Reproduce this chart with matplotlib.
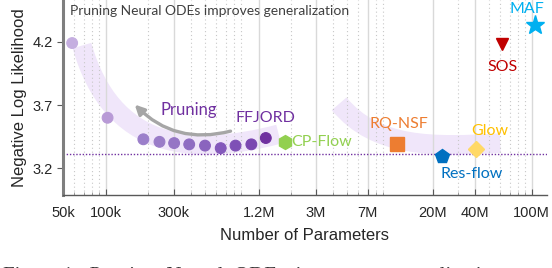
import matplotlib
matplotlib.use("Agg")
import matplotlib.pyplot as plt
from matplotlib.path import Path
from matplotlib.patches import PathPatch, FancyArrowPatch
from matplotlib.ticker import FixedLocator, LogLocator, NullFormatter

# FFJORD pruning trajectory (params, NLL), from dense -> pruned
ffjord_params = [5.8e4, 1.03e5, 1.84e5, 2.39e5, 3.03e5, 3.87e5, 5.0e5, 6.45e5, 8.2e5, 1.06e6, 1.34e6]
ffjord_nll = [4.19, 3.60, 3.43, 3.41, 3.40, 3.39, 3.38, 3.36, 3.38, 3.39, 3.44]
ffjord_colors = ['#c5aee0', '#b89ad6', '#9b7fca', '#9a7cc8', '#9575c5', '#8f6dc2',
                 '#8a64be', '#8459bb', '#7e50b6', '#7a47b0', '#7030a0']

# other flows
models = ['CP-Flow', 'RQ-NSF', 'Res-flow', 'Glow', 'SOS', 'MAF']
model_params = [1.84e6, 1.13e7, 2.34e7, 4.07e7, 6.2e7, 1.05e8]
model_nll = [3.41, 3.39, 3.30, 3.35, 4.18, 4.33]
model_markers = ['h', 's', 'p', 'D', 'v', '*']
model_sizes = [10, 9.5, 10, 8, 9, 14]
model_colors = ['#92d050', '#ed7d31', '#0070c0', '#ffd966', '#c00000', '#00b0f0']
label_colors = ['#92d050', '#ed7d31', '#0070c0', '#ffc000', '#c00000', '#00b0f0']
label_offsets = [(4, 0), (1, 15), (21, -13.5), (10, 13), (0, -16), (-6, 11.5)]
label_ha = ['left', 'center', 'center', 'center', 'center', 'center']

best_nll = 3.31

# decorative bands (bezier control points)
band1_x = [6.8e4, 1.1e5, 4.0e5, 1.65e6]
band1_y = [4.17, 3.35, 3.29, 3.47]
band2_x = [4.4e6, 8.0e6, 2.0e7, 6.0e7]
band2_y = [3.71, 3.36, 3.37, 3.40]

x_ticks = [5e4, 1e5, 3e5, 1.2e6, 3e6, 7e6, 2e7, 4e7, 1e8]
x_ticklabels = ['50k', '100k', '300k', '1.2M', '3M', '7M', '20M', '40M', '100M']
y_ticks = [3.2, 3.7, 4.2]

fig = plt.figure(figsize=(5.52, 2.68), dpi=100)
ax = fig.add_axes([63 / 552, 1 - 195 / 268, 484 / 552, 195 / 268])
ax.set_xscale('log')
ax.set_xlim(5e4, 1.28e8)
ax.set_ylim(2.99, 4.53)

# grid
ax.xaxis.set_major_locator(FixedLocator(x_ticks))
ax.set_xticklabels(x_ticklabels)
ax.xaxis.set_minor_locator(LogLocator(base=10, subs=range(2, 10)))
ax.xaxis.set_minor_formatter(NullFormatter())
ax.grid(axis='x', which='major', color='#d9d9d9', lw=1.0, zorder=0)
ax.grid(axis='x', which='minor', color='#c8c8c8', lw=0.8, ls=(0, (1, 2.5)), zorder=0)
ax.set_yticks(y_ticks)
ax.set_yticklabels([str(v) for v in y_ticks])

for bx, by in [(band1_x, band1_y), (band2_x, band2_y)]:
    path = Path(list(zip(bx, by)), [Path.MOVETO, Path.CURVE4, Path.CURVE4, Path.CURVE4])
    ax.add_patch(PathPatch(path, fill=False, edgecolor='#f0e6fa', lw=14,
                           capstyle='butt', zorder=1))

ax.axhline(best_nll, color='#7030a0', lw=1.0, ls=(0, (1, 1.3)), zorder=2)

arrow = FancyArrowPatch((7.9e5, 3.50), (1.55e5, 3.72), connectionstyle='arc3,rad=-0.3',
                        arrowstyle='-|>', mutation_scale=14, color='#a6a6a6', lw=2.4, zorder=3)
ax.add_patch(arrow)

ax.scatter(ffjord_params, ffjord_nll, s=60, c=ffjord_colors,
           edgecolors=ffjord_colors[:10] + ['#7030a0'], linewidths=0.8, zorder=4)

for i in range(len(models)):
    ax.plot(model_params[i], model_nll[i], marker=model_markers[i], ms=model_sizes[i],
            color=model_colors[i], mec=model_colors[i], ls='none', zorder=5)
    ax.annotate(models[i], (model_params[i], model_nll[i]), xytext=label_offsets[i],
                textcoords='offset points', ha=label_ha[i], va='center',
                color=label_colors[i], fontsize=11.5, family='Lato')

ax.annotate('FFJORD', (ffjord_params[-1], ffjord_nll[-1]), xytext=(0, 14.5),
            textcoords='offset points', ha='center', va='center',
            color='#7030a0', fontsize=11.5, family='Lato')
ax.text(3.87e5, 3.665, 'Pruning', ha='center', va='center', color='#7030a0',
        fontsize=12, family='Lato')
ax.text(0.015, 0.975, 'Pruning Neural ODEs improves generalization', transform=ax.transAxes,
        ha='left', va='top', color='#404040', fontsize=10, family='Lato')

for s in ['top', 'right']:
    ax.spines[s].set_visible(False)
ax.spines['left'].set_color('#7f7f7f')
ax.spines['left'].set_linewidth(2.2)
ax.spines['bottom'].set_color('#595959')
ax.spines['bottom'].set_linewidth(1.0)
ax.tick_params(axis='x', which='major', direction='in', length=4, color='#595959',
               labelsize=10.5, labelcolor='#262626', pad=8)
ax.tick_params(axis='x', which='minor', direction='in', length=2, color='#8c8c8c')
ax.tick_params(axis='y', direction='out', length=4, color='#595959',
               labelsize=10.5, labelcolor='#262626')
for lab in ax.get_xticklabels() + ax.get_yticklabels():
    lab.set_family('Liberation Sans')

ax.set_xlabel('Number of Parameters', fontsize=12, family='Liberation Sans',
              color='#262626', labelpad=6)
ax.set_ylabel('Negative Log Likelihood', fontsize=12, family='Liberation Sans',
              color='#262626', labelpad=4)

# cropped caption at bottom of the screenshot
fig.text(0.005, 1 / 268, 'Figure 1:  Pruning  Neural  ODEs  improves  generalization',
         ha='left', va='top', fontsize=15, family='Liberation Serif', color='#333333')

fig.savefig('out.png', dpi=100)
